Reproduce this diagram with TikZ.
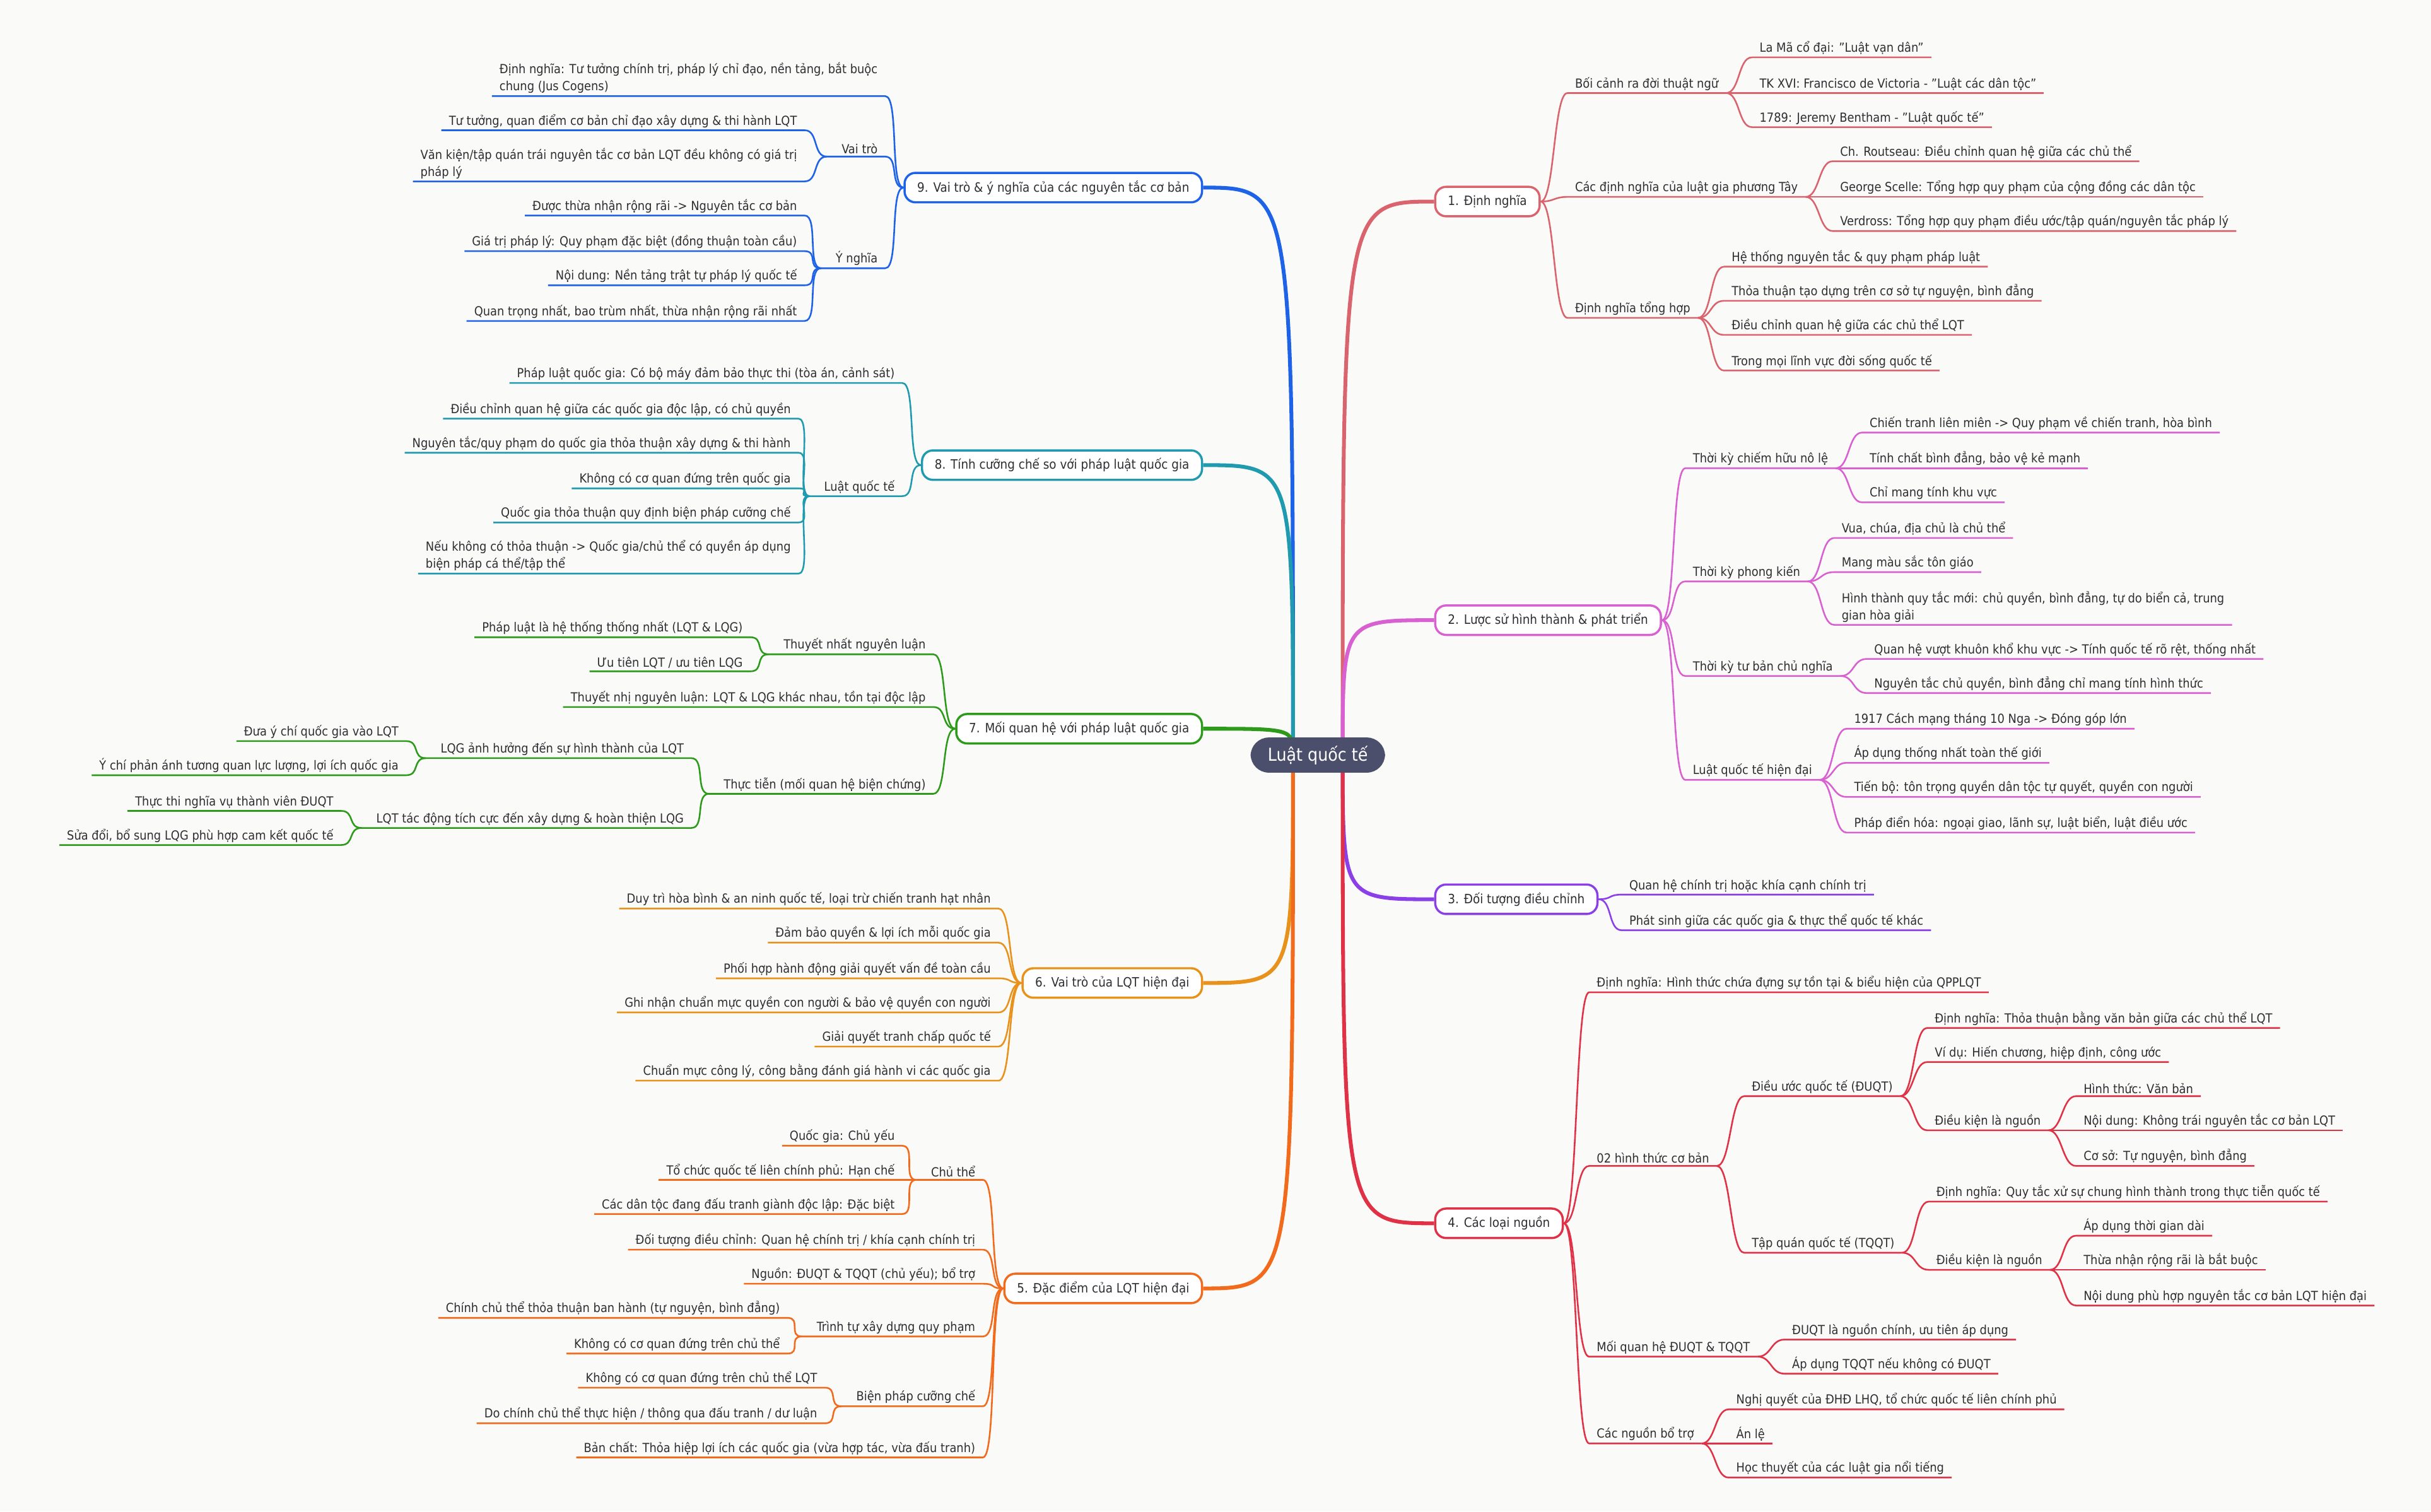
\documentclass[tikz,border=0pt]{standalone}
\usepackage{fontspec}
\setmainfont{DejaVu Sans Condensed}
\definecolor{bg}{HTML}{FAFAF8}
\definecolor{tx}{HTML}{2E2E33}
\definecolor{c1}{HTML}{D9646E}
\definecolor{c2}{HTML}{D860D0}
\definecolor{c3}{HTML}{8A3FE8}
\definecolor{c4}{HTML}{E03246}
\definecolor{c5}{HTML}{F26B1D}
\definecolor{c6}{HTML}{E8921B}
\definecolor{c7}{HTML}{2E9A1C}
\definecolor{c8}{HTML}{1F9AAE}
\definecolor{c9}{HTML}{1E62E8}
\definecolor{cen}{HTML}{4B4F6B}
\newcommand\RN[6]{\node[lf,anchor=south west] (#1) at (#3-4,#4+6) {#6};
 \draw[#5,conn] (#2) .. controls +(9,0) and +(-9,0) .. (#1.south west) -- (#1.south east);}
\newcommand\LN[6]{\node[lf,anchor=south east] (#1) at (#3,#4+6) {#6};
 \draw[#5,conn] (#2) .. controls +(-9,0) and +(9,0) .. (#1.south east) -- (#1.south west);}
\begin{document}
\begin{tikzpicture}[x=0.03cm,y=-0.03cm,
 lf/.style={font=\fontsize{6.9}{9.4}\selectfont,text=tx,inner xsep=4pt,inner ysep=1.3pt,align=left},
 conn/.style={line width=0.9pt},
 mainc/.style={line width=2.1pt},
 box/.style={draw,line width=1.2pt,rounded corners=6pt,fill=white,text=tx,font=\fontsize{7.1}{8.5}\selectfont,minimum height=0.57cm,inner xsep=7pt}]
\fill[bg] (0,0) rectangle (1568,975);
\useasboundingbox (0,0) rectangle (1568,975);
\coordinate (cr) at (866,487);
\coordinate (cl) at (834,487);
% boxes
\node[box,draw=c1,anchor=west] (b1) at (925,130) {1. Định nghĩa};
\node[box,draw=c2,anchor=west] (b2) at (925,400) {2. Lược sử hình thành \& phát triển};
\node[box,draw=c3,anchor=west] (b3) at (925,580) {3. Đối tượng điều chỉnh};
\node[box,draw=c4,anchor=west] (b4) at (925,789) {4. Các loại nguồn};
\node[box,draw=c9,anchor=east] (b9) at (776,121) {9. Vai trò \& ý nghĩa của các nguyên tắc cơ bản};
\node[box,draw=c8,anchor=east] (b8) at (776,300) {8. Tính cưỡng chế so với pháp luật quốc gia};
\node[box,draw=c7,anchor=east] (b7) at (776,470) {7. Mối quan hệ với pháp luật quốc gia};
\node[box,draw=c6,anchor=east] (b6) at (776,634) {6. Vai trò của LQT hiện đại};
\node[box,draw=c5,anchor=east] (b5) at (776,831) {5. Đặc điểm của LQT hiện đại};
\foreach \b/\c in {b1/c1,b2/c2,b3/c3,b4/c4}{\draw[\c,mainc] (cr) .. controls (cr |- \b.west) .. (\b.west);}
\foreach \b/\c in {b9/c9,b8/c8,b7/c7,b6/c6,b5/c5}{\draw[\c,mainc] (cl) .. controls (cl |- \b.east) .. (\b.east);}
% branch 1
\RN{s11}{b1.east}{1015}{54}{c1}{Bối cảnh ra đời thuật ngữ}
\RN{l111}{s11.south east}{1134}{31}{c1}{La Mã cổ đại: "Luật vạn dân"}
\RN{l112}{s11.south east}{1134}{54}{c1}{TK XVI: Francisco de Victoria - "Luật các dân tộc"}
\RN{l113}{s11.south east}{1134}{76}{c1}{1789: Jeremy Bentham - "Luật quốc tế"}
\RN{s12}{b1.east}{1015}{121}{c1}{Các định nghĩa của luật gia phương Tây}
\RN{l121}{s12.south east}{1186}{98}{c1}{Ch. Routseau: Điều chỉnh quan hệ giữa các chủ thể}
\RN{l122}{s12.south east}{1186}{121}{c1}{George Scelle: Tổng hợp quy phạm của cộng đồng các dân tộc}
\RN{l123}{s12.south east}{1186}{143}{c1}{Verdross: Tổng hợp quy phạm điều ước/tập quán/nguyên tắc pháp lý}
\RN{s13}{b1.east}{1015}{199}{c1}{Định nghĩa tổng hợp}
\RN{l131}{s13.south east}{1116}{166}{c1}{Hệ thống nguyên tắc \& quy phạm pháp luật}
\RN{l132}{s13.south east}{1116}{188}{c1}{Thỏa thuận tạo dựng trên cơ sở tự nguyện, bình đẳng}
\RN{l133}{s13.south east}{1116}{210}{c1}{Điều chỉnh quan hệ giữa các chủ thể LQT}
\RN{l134}{s13.south east}{1116}{233}{c1}{Trong mọi lĩnh vực đời sống quốc tế}
% branch 2
\RN{s21}{b2.east}{1091}{296}{c2}{Thời kỳ chiếm hữu nô lệ}
\RN{l211}{s21.south east}{1205}{273}{c2}{Chiến tranh liên miên -> Quy phạm về chiến tranh, hòa bình}
\RN{l212}{s21.south east}{1205}{296}{c2}{Tính chất bình đẳng, bảo vệ kẻ mạnh}
\RN{l213}{s21.south east}{1205}{318}{c2}{Chỉ mang tính khu vực}
\RN{s22}{b2.east}{1091}{369}{c2}{Thời kỳ phong kiến}
\RN{l221}{s22.south east}{1187}{341}{c2}{Vua, chúa, địa chủ là chủ thể}
\RN{l222}{s22.south east}{1187}{363}{c2}{Mang màu sắc tôn giáo}
\RN{l223}{s22.south east}{1187}{397}{c2}{Hình thành quy tắc mới: chủ quyền, bình đẳng, tự do biển cả, trung\\gian hòa giải}
\RN{s23}{b2.east}{1091}{430}{c2}{Thời kỳ tư bản chủ nghĩa}
\RN{l231}{s23.south east}{1208}{419}{c2}{Quan hệ vượt khuôn khổ khu vực -> Tính quốc tế rõ rệt, thống nhất}
\RN{l232}{s23.south east}{1208}{441}{c2}{Nguyên tắc chủ quyền, bình đẳng chỉ mang tính hình thức}
\RN{s24}{b2.east}{1091}{497}{c2}{Luật quốc tế hiện đại}
\RN{l241}{s24.south east}{1195}{464}{c2}{1917 Cách mạng tháng 10 Nga -> Đóng góp lớn}
\RN{l242}{s24.south east}{1195}{486}{c2}{Áp dụng thống nhất toàn thế giới}
\RN{l243}{s24.south east}{1195}{508}{c2}{Tiến bộ: tôn trọng quyền dân tộc tự quyết, quyền con người}
\RN{l244}{s24.south east}{1195}{531}{c2}{Pháp điển hóa: ngoại giao, lãnh sự, luật biển, luật điều ước}
% branch 3
\RN{l31}{b3.east}{1050}{571}{c3}{Quan hệ chính trị hoặc khía cạnh chính trị}
\RN{l32}{b3.east}{1050}{594}{c3}{Phát sinh giữa các quốc gia \& thực thể quốc tế khác}
% branch 4
\RN{l41}{b4.east}{1029}{634}{c4}{Định nghĩa: Hình thức chứa đựng sự tồn tại \& biểu hiện của QPPLQT}
\RN{s42}{b4.east}{1029}{746}{c4}{02 hình thức cơ bản}
\RN{s421}{s42.south east}{1129}{701}{c4}{Điều ước quốc tế (ĐUQT)}
\RN{l4211}{s421.south east}{1247}{657}{c4}{Định nghĩa: Thỏa thuận bằng văn bản giữa các chủ thể LQT}
\RN{l4212}{s421.south east}{1247}{679}{c4}{Ví dụ: Hiến chương, hiệp định, công ước}
\RN{s4213}{s421.south east}{1247}{723}{c4}{Điều kiện là nguồn}
\RN{l42131}{s4213.south east}{1343}{701}{c4}{Hình thức: Văn bản}
\RN{l42132}{s4213.south east}{1343}{723}{c4}{Nội dung: Không trái nguyên tắc cơ bản LQT}
\RN{l42133}{s4213.south east}{1343}{746}{c4}{Cơ sở: Tự nguyện, bình đẳng}
\RN{s422}{s42.south east}{1129}{802}{c4}{Tập quán quốc tế (TQQT)}
\RN{l4221}{s422.south east}{1248}{769}{c4}{Định nghĩa: Quy tắc xử sự chung hình thành trong thực tiễn quốc tế}
\RN{s4222}{s422.south east}{1248}{813}{c4}{Điều kiện là nguồn}
\RN{l42221}{s4222.south east}{1343}{791}{c4}{Áp dụng thời gian dài}
\RN{l42222}{s4222.south east}{1343}{813}{c4}{Thừa nhận rộng rãi là bắt buộc}
\RN{l42223}{s4222.south east}{1343}{836}{c4}{Nội dung phù hợp nguyên tắc cơ bản LQT hiện đại}
\RN{s43}{b4.east}{1029}{869}{c4}{Mối quan hệ ĐUQT \& TQQT}
\RN{l431}{s43.south east}{1155}{858}{c4}{ĐUQT là nguồn chính, ưu tiên áp dụng}
\RN{l432}{s43.south east}{1155}{880}{c4}{Áp dụng TQQT nếu không có ĐUQT}
\RN{s44}{b4.east}{1029}{925}{c4}{Các nguồn bổ trợ}
\RN{l441}{s44.south east}{1119}{903}{c4}{Nghị quyết của ĐHĐ LHQ, tổ chức quốc tế liên chính phủ}
\RN{l442}{s44.south east}{1119}{925}{c4}{Án lệ}
\RN{l443}{s44.south east}{1119}{947}{c4}{Học thuyết của các luật gia nổi tiếng}
% branch 9
\LN{l90}{b9.west}{571}{56}{c9}{Định nghĩa: Tư tưởng chính trị, pháp lý chỉ đạo, nền tảng, bắt buộc\\chung (Jus Cogens)}
\LN{s91}{b9.west}{571}{95}{c9}{\hspace{4pt}Vai trò}
\LN{l912}{s91.south west}{519}{78}{c9}{Tư tưởng, quan điểm cơ bản chỉ đạo xây dựng \& thi hành LQT}
\LN{l913}{s91.south west}{519}{111}{c9}{Văn kiện/tập quán trái nguyên tắc cơ bản LQT đều không có giá trị\\pháp lý}
\LN{s92}{b9.west}{571}{167}{c9}{\hspace{4pt}Ý nghĩa}
\LN{l921}{s92.south west}{519}{133}{c9}{Được thừa nhận rộng rãi -> Nguyên tắc cơ bản}
\LN{l922}{s92.south west}{519}{156}{c9}{Giá trị pháp lý: Quy phạm đặc biệt (đồng thuận toàn cầu)}
\LN{l923}{s92.south west}{519}{178}{c9}{Nội dung: Nền tảng trật tự pháp lý quốc tế}
\LN{l924}{s92.south west}{519}{201}{c9}{Quan trọng nhất, bao trùm nhất, thừa nhận rộng rãi nhất}
% branch 8
\LN{l81}{b8.west}{582}{241}{c8}{Pháp luật quốc gia: Có bộ máy đảm bảo thực thi (tòa án, cảnh sát)}
\LN{s82}{b8.west}{582}{314}{c8}{\hspace{4pt}Luật quốc tế}
\LN{l821}{s82.south west}{515}{264}{c8}{Điều chỉnh quan hệ giữa các quốc gia độc lập, có chủ quyền}
\LN{l822}{s82.south west}{515}{286}{c8}{Nguyên tắc/quy phạm do quốc gia thỏa thuận xây dựng \& thi hành}
\LN{l823}{s82.south west}{515}{309}{c8}{Không có cơ quan đứng trên quốc gia}
\LN{l824}{s82.south west}{515}{331}{c8}{Quốc gia thỏa thuận quy định biện pháp cưỡng chế}
\LN{l825}{s82.south west}{515}{364}{c8}{Nếu không có thỏa thuận -> Quốc gia/chủ thể có quyền áp dụng\\biện pháp cá thể/tập thể}
% branch 7
\LN{s71}{b7.west}{602}{416}{c7}{\hspace{4pt}Thuyết nhất nguyên luận}
\LN{l711}{s71.south west}{484}{405}{c7}{Pháp luật là hệ thống thống nhất (LQT \& LQG)}
\LN{l712}{s71.south west}{484}{427}{c7}{Ưu tiên LQT / ưu tiên LQG}
\LN{l72}{b7.west}{602}{450}{c7}{Thuyết nhị nguyên luận: LQT \& LQG khác nhau, tồn tại độc lập}
\LN{s73}{b7.west}{602}{506}{c7}{\hspace{4pt}Thực tiễn (mối quan hệ biện chứng)}
\LN{s731}{s73.south west}{446}{483}{c7}{\hspace{4pt}LQG ảnh hưởng đến sự hình thành của LQT}
\LN{l7311}{s731.south west}{262}{472}{c7}{Đưa ý chí quốc gia vào LQT}
\LN{l7312}{s731.south west}{262}{494}{c7}{Ý chí phản ánh tương quan lực lượng, lợi ích quốc gia}
\LN{s732}{s73.south west}{446}{528}{c7}{\hspace{4pt}LQT tác động tích cực đến xây dựng \& hoàn thiện LQG}
\LN{l7321}{s732.south west}{220}{517}{c7}{Thực thi nghĩa vụ thành viên ĐUQT}
\LN{l7322}{s732.south west}{220}{539}{c7}{Sửa đổi, bổ sung LQG phù hợp cam kết quốc tế}
% branch 6
\LN{l61}{b6.west}{644}{580}{c6}{Duy trì hòa bình \& an ninh quốc tế, loại trừ chiến tranh hạt nhân}
\LN{l62}{b6.west}{644}{602}{c6}{Đảm bảo quyền \& lợi ích mỗi quốc gia}
\LN{l63}{b6.west}{644}{625}{c6}{Phối hợp hành động giải quyết vấn đề toàn cầu}
\LN{l64}{b6.west}{644}{647}{c6}{Ghi nhận chuẩn mực quyền con người \& bảo vệ quyền con người}
\LN{l65}{b6.west}{644}{669}{c6}{Giải quyết tranh chấp quốc tế}
\LN{l66}{b6.west}{644}{691}{c6}{Chuẩn mực công lý, công bằng đánh giá hành vi các quốc gia}
% branch 5
\LN{s51}{b5.west}{634}{755}{c5}{\hspace{4pt}Chủ thể}
\LN{l511}{s51.south west}{582}{733}{c5}{Quốc gia: Chủ yếu}
\LN{l512}{s51.south west}{582}{755}{c5}{Tổ chức quốc tế liên chính phủ: Hạn chế}
\LN{l513}{s51.south west}{582}{777}{c5}{Các dân tộc đang đấu tranh giành độc lập: Đặc biệt}
\LN{l52}{b5.west}{634}{800}{c5}{Đối tượng điều chỉnh: Quan hệ chính trị / khía cạnh chính trị}
\LN{l53}{b5.west}{634}{822}{c5}{Nguồn: ĐUQT \& TQQT (chủ yếu); bổ trợ}
\LN{s54}{b5.west}{634}{856}{c5}{\hspace{4pt}Trình tự xây dựng quy phạm}
\LN{l541}{s54.south west}{508}{844}{c5}{Chính chủ thể thỏa thuận ban hành (tự nguyện, bình đẳng)}
\LN{l542}{s54.south west}{508}{867}{c5}{Không có cơ quan đứng trên chủ thể}
\LN{s55}{b5.west}{634}{901}{c5}{\hspace{4pt}Biện pháp cưỡng chế}
\LN{l551}{s55.south west}{532}{889}{c5}{Không có cơ quan đứng trên chủ thể LQT}
\LN{l552}{s55.south west}{532}{912}{c5}{Do chính chủ thể thực hiện / thông qua đấu tranh / dư luận}
\LN{l56}{b5.west}{634}{934}{c5}{Bản chất: Thỏa hiệp lợi ích các quốc gia (vừa hợp tác, vừa đấu tranh)}
% center
\node[fill=cen,text=white,rounded corners=10pt,minimum width=2.6cm,minimum height=0.68cm,font=\fontsize{9.8}{11}\selectfont] (center) at (850,487) {Luật quốc tế};
\end{tikzpicture}
\end{document}
